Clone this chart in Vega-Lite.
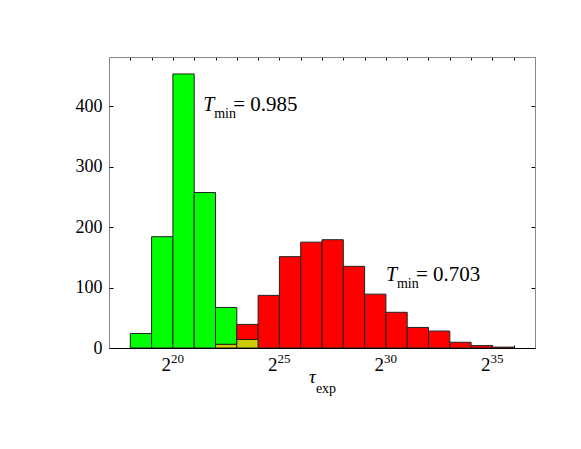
{
  "$schema": "https://vega.github.io/schema/vega-lite/v6.json",
  "width": 426,
  "height": 291,
  "autosize": {"type": "none"},
  "padding": {"left": 109, "top": 57, "right": 46, "bottom": 101},
  "config": {
    "view": {"stroke": "#888888", "strokeWidth": 1},
    "font": "Liberation Serif",
    "text": {"font": "Liberation Serif", "color": "#000000"},
    "axis": {"labelFont": "Liberation Serif", "titleFont": "Liberation Serif", "grid": false}
  },
  "datasets": {
    "bars": [
      {"series": "T1", "lo": 262144, "hi": 524288, "count": 24},
      {"series": "T1", "lo": 524288, "hi": 1048576, "count": 184},
      {"series": "T1", "lo": 1048576, "hi": 2097152, "count": 453},
      {"series": "T1", "lo": 2097152, "hi": 4194304, "count": 257},
      {"series": "T1", "lo": 4194304, "hi": 8388608, "count": 67},
      {"series": "T1", "lo": 8388608, "hi": 16777216, "count": 14},
      {"series": "T2", "lo": 4194304, "hi": 8388608, "count": 6},
      {"series": "T2", "lo": 8388608, "hi": 16777216, "count": 39},
      {"series": "T2", "lo": 16777216, "hi": 33554432, "count": 87},
      {"series": "T2", "lo": 33554432, "hi": 67108864, "count": 151},
      {"series": "T2", "lo": 67108864, "hi": 134217728, "count": 175},
      {"series": "T2", "lo": 134217728, "hi": 268435456, "count": 179},
      {"series": "T2", "lo": 268435456, "hi": 536870912, "count": 135},
      {"series": "T2", "lo": 536870912, "hi": 1073741824, "count": 89},
      {"series": "T2", "lo": 1073741824, "hi": 2147483648, "count": 59},
      {"series": "T2", "lo": 2147483648, "hi": 4294967296, "count": 34},
      {"series": "T2", "lo": 4294967296, "hi": 8589934592, "count": 28},
      {"series": "T2", "lo": 8589934592, "hi": 17179869184, "count": 9.5},
      {"series": "T2", "lo": 17179869184, "hi": 34359738368, "count": 4},
      {"series": "T2", "lo": 34359738368, "hi": 68719476736, "count": 1.5},
      {"series": "both", "lo": 4194304, "hi": 8388608, "count": 6},
      {"series": "both", "lo": 8388608, "hi": 16777216, "count": 14}
    ],
    "notes": [
      {"x": 2806000, "y": 392, "t": "T", "sub": "min", "rest": "= 0.985"},
      {"x": 1073741824, "y": 111, "t": "T", "sub": "min", "rest": "= 0.703"}
    ],
    "xlabels": [
      {"x": 1048576, "base": "2", "exp": "20"},
      {"x": 33554432, "base": "2", "exp": "25"},
      {"x": 1073741824, "base": "2", "exp": "30"},
      {"x": 34359738368, "base": "2", "exp": "35"}
    ],
    "xtitle": [
      {"x": 110000000, "sym": "τ", "sub": "exp"}
    ]
  },
  "layer": [
    {
      "data": {"name": "bars"},
      "mark": {"type": "bar", "stroke": "#222222", "strokeWidth": 1, "opacity": 1},
      "encoding": {
        "x": {
          "field": "lo", "type": "quantitative",
          "scale": {"type": "log", "base": 2, "domain": [131072, 137438953472], "nice": false, "zero": false},
          "axis": {
            "orient": "bottom",
            "values": [1048576, 33554432, 1073741824, 34359738368],
            "ticks": false,
            "labels": false,
            "domainColor": "#000000",
            "title": null,
            "zindex": 1
          }
        },
        "x2": {"field": "hi"},
        "y": {
          "field": "count", "type": "quantitative", "stack": null,
          "scale": {"domain": [0, 481], "nice": false, "zero": true},
          "axis": {
            "orient": "left",
            "values": [0, 100, 200, 300, 400],
            "ticks": false,
            "labelPadding": 7,
            "labelFontSize": 18,
            "labelColor": "#000000",
            "domainColor": "#888888",
            "title": null
          }
        },
        "y2": {"datum": 0},
        "color": {
          "field": "series", "type": "nominal",
          "scale": {"domain": ["T1", "T2", "both"], "range": ["#00ff00", "#ff0000", "#cccc00"]},
          "legend": null
        }
      }
    },
    {
      "data": {"name": "notes"},
      "mark": {"type": "text", "align": "left", "baseline": "alphabetic", "fontSize": 20, "fontStyle": "italic"},
      "encoding": {
        "x": {
          "field": "x", "type": "quantitative",
          "axis": {
            "orient": "top",
            "values": [262144, 524288, 1048576, 2097152, 4194304, 8388608, 16777216, 33554432, 67108864, 134217728, 268435456, 536870912, 1073741824, 2147483648, 4294967296, 8589934592, 17179869184, 34359738368, 68719476736],
            "labels": false,
            "tickSize": -3,
            "tickColor": "#000000",
            "domainColor": "#888888",
            "title": null
          }
        },
        "y": {
          "field": "y", "type": "quantitative",
          "axis": {
            "orient": "right",
            "values": [100, 200, 300, 400],
            "labels": false,
            "tickSize": -4,
            "tickColor": "#000000",
            "domainColor": "#888888",
            "title": null
          }
        },
        "text": {"field": "t"}
      }
    },
    {
      "data": {"name": "notes"},
      "mark": {"type": "text", "align": "left", "baseline": "alphabetic", "fontSize": 14, "dx": 11, "dy": 7},
      "encoding": {
        "x": {
          "field": "x", "type": "quantitative",
          "axis": {
            "orient": "bottom",
            "values": [262144, 524288, 1048576, 2097152, 4194304, 8388608, 16777216, 33554432, 67108864, 134217728, 268435456, 536870912, 1073741824, 2147483648, 4294967296, 8589934592, 17179869184, 34359738368, 68719476736],
            "labels": false,
            "domain": false,
            "tickSize": -3,
            "tickColor": "#000000",
            "title": null
          }
        },
        "y": {
          "field": "y", "type": "quantitative",
          "axis": {
            "orient": "left",
            "values": [100, 200, 300, 400],
            "labels": false,
            "domain": false,
            "tickSize": -4,
            "tickColor": "#000000",
            "title": null
          }
        },
        "text": {"field": "sub"}
      }
    },
    {
      "data": {"name": "notes"},
      "mark": {"type": "text", "align": "left", "baseline": "alphabetic", "fontSize": 21, "dx": 30},
      "encoding": {
        "x": {"field": "x", "type": "quantitative", "axis": null},
        "y": {"field": "y", "type": "quantitative", "axis": null},
        "text": {"field": "rest"}
      }
    },
    {
      "data": {"name": "xlabels"},
      "mark": {"type": "text", "align": "right", "baseline": "alphabetic", "fontSize": 19, "dx": -2, "dy": 23},
      "encoding": {
        "x": {"field": "x", "type": "quantitative", "axis": null},
        "y": {"datum": 0, "type": "quantitative", "axis": null},
        "text": {"field": "base"}
      }
    },
    {
      "data": {"name": "xlabels"},
      "mark": {"type": "text", "align": "left", "baseline": "alphabetic", "fontSize": 13, "dx": -2, "dy": 15},
      "encoding": {
        "x": {"field": "x", "type": "quantitative", "axis": null},
        "y": {"datum": 0, "type": "quantitative", "axis": null},
        "text": {"field": "exp"}
      }
    },
    {
      "data": {"name": "xtitle"},
      "mark": {"type": "text", "align": "right", "baseline": "alphabetic", "fontSize": 19, "fontStyle": "italic", "dx": 0, "dy": 35},
      "encoding": {
        "x": {"field": "x", "type": "quantitative", "axis": null},
        "y": {"datum": 0, "type": "quantitative", "axis": null},
        "text": {"field": "sym"}
      }
    },
    {
      "data": {"name": "xtitle"},
      "mark": {"type": "text", "align": "left", "baseline": "alphabetic", "fontSize": 14, "dx": 0, "dy": 45},
      "encoding": {
        "x": {"field": "x", "type": "quantitative", "axis": null},
        "y": {"datum": 0, "type": "quantitative", "axis": null},
        "text": {"field": "sub"}
      }
    }
  ],
  "resolve": {"axis": {"x": "independent", "y": "independent"}}
}
